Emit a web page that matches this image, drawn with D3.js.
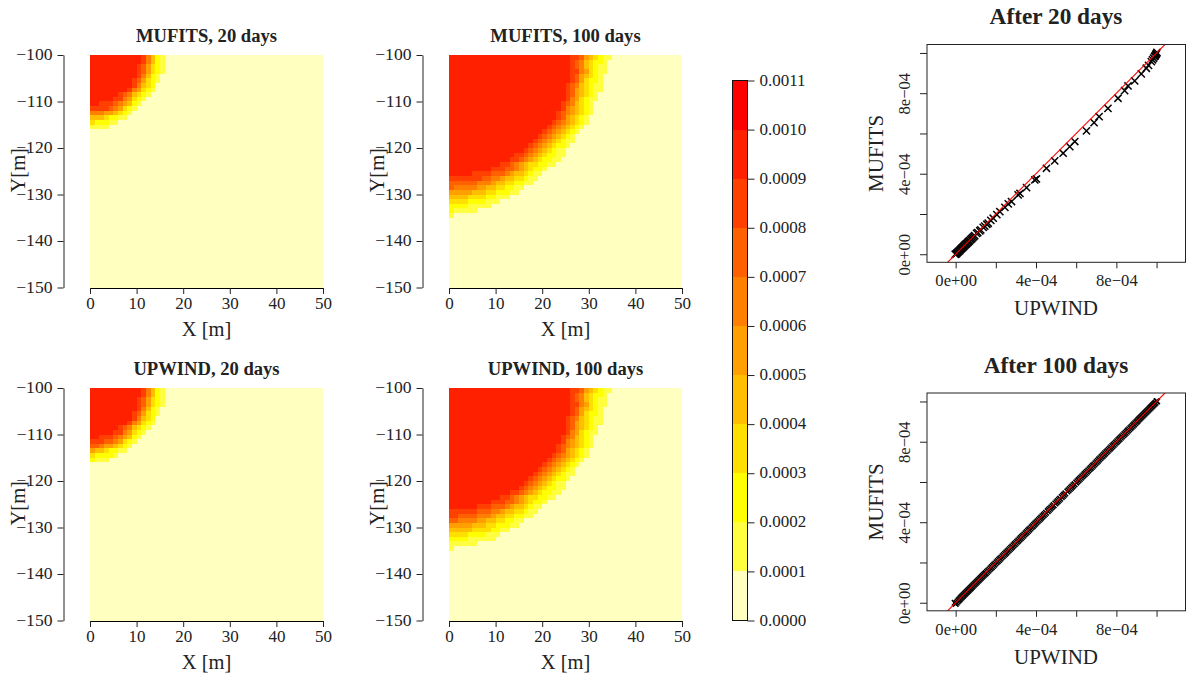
<!DOCTYPE html>
<html><head><meta charset="utf-8">
<script src="https://cdn.jsdelivr.net/npm/d3@7"></script>
<style>html,body{margin:0;padding:0;background:#fff}svg{display:block}text{font-family:"Liberation Serif",serif;fill:#222}</style>
</head><body><svg id="c" width="1189" height="676"></svg>
<script>
const levelColors=["#FFFFBF","#FFFF40","#FFFF00","#FFDF00","#FFBF00","#FF9F00","#FF8000","#FF6000","#FF4000","#FF2000","#FF0000"];
const levelBreaks=[0,0.0001,0.0002,0.0003,0.0004,0.0005,0.0006,0.0007,0.0008,0.0009,0.0010,0.0011];
const xTicksHeat=[0,10,20,30,40,50];
const yTicksHeat=[-100,-110,-120,-130,-140,-150];
// one entry per 1 m row from y=-100: [cells at level 9, then one digit per following cell = colour level]; the rest is level 0
const mufits20=[[11,"86421"],[11,"86421"],[10,"875321"],[10,"875321"],[10,"86421"],[9,"875321"],[9,"86432"],[8,"865321"],
[6,"8764321"],[5,"8865321"],[2,"888765421"],[0,"8888765321"],[0,"666554321"],[0,"44432211"],[0,"322211"],[0,"1111"]];
const upwind20=[[11,"86421"],[11,"86421"],[10,"875321"],[10,"875321"],[10,"86421"],[9,"875321"],[9,"86432"],[8,"865321"],
[6,"8764321"],[5,"8865321"],[2,"888765421"],[0,"8887765321"],[0,"776554321"],[0,"54432211"],[0,"322221"],[0,"2111"]];
const mufits100=[[26,"887543211"],[26,"87643221"],[26,"87643211"],[26,"88653211"],[26,"8754321"],[26,"8753221"],[25,"87643211"],[25,"87543211"],
[25,"8754321"],[25,"8653211"],[24,"8764321"],[24,"8654321"],[23,"87654321"],[23,"8754321"],[22,"87654321"],[21,"87654321"],
[20,"87654321"],[19,"87654321"],[18,"876543211"],[17,"876543221"],[16,"876543211"],[14,"88765432211"],[13,"88765432211"],[11,"887654332211"],
[9,"888776543221"],[5,"888877765443211"],[0,"8888888776654433211"],[0,"777777666544332211"],[0,"7666665544332211"],
[0,"555554443322211"],[0,"4444333322111"],[0,"33332222111"],[0,"222211111"],[0,"211111"],[0,"1"]];
const upwind100=[[26,"887543211"],[26,"87643221"],[26,"87643211"],[26,"88653211"],[26,"8754321"],[26,"8753221"],[25,"87643211"],[25,"87543211"],
[25,"8754321"],[25,"8653211"],[24,"8764321"],[24,"8654321"],[23,"87654321"],[23,"8754321"],[22,"87654321"],[21,"87654321"],
[20,"87654321"],[19,"87654321"],[18,"876543211"],[17,"876543221"],[16,"876543211"],[15,"8765432211"],[13,"88765432211"],[11,"887654332211"],
[9,"888776543221"],[6,"88877765443211"],[0,"8888887776654433211"],[0,"887777666544332211"],[0,"7766665544332211"],
[0,"555554443322211"],[0,"4444433332211"],[0,"33332222111"],[0,"2222111111"],[0,"111111"],[0,"1"]];
const upwind20x=[-0.02,0.03,0.06,0.1,0.14,0.18,0.22,0.26,0.3,0.34,0.38,0.42,0.46,0.5,0.54,0.58,0.62,0.66,0.7,0.75,0.8,0.85,0.9,0.95,1.04,1.1,1.2,1.25,1.37,1.45,1.55,1.62,1.75,1.87,2.05,2.2,2.45,2.62,2.78,3.11,3.2,3.53,3.94,4.02,4.52,4.93,5.35,5.68,5.93,6.51,6.89,7.14,7.58,8.08,8.41,8.58,8.91,9.24,9.49,9.6,9.74,9.8,9.85,9.9,9.93,9.96,9.98,10,10.02];
const mufits20y=[0,0.02,0.05,0.09,0.13,0.17,0.21,0.25,0.29,0.33,0.37,0.41,0.45,0.49,0.52,0.56,0.6,0.64,0.68,0.73,0.77,0.82,0.87,0.92,1.04,1.08,1.16,1.21,1.34,1.4,1.49,1.54,1.68,1.79,1.97,2.12,2.33,2.5,2.62,2.95,3.02,3.31,3.69,3.74,4.27,4.64,5.02,5.35,5.6,6.13,6.54,6.84,7.25,7.75,8.13,8.36,8.61,8.96,9.24,9.38,9.57,9.66,9.74,9.82,9.86,9.91,9.95,9.98,10.03];
const pairs100=[[-0.05,0],[0,-0.06],[0.05,0],[0.1,0.06],[0.15,0.12],[0.2,0.17],[0.25,0.23],[0.3,0.28],[0.35,0.33],[0.4,0.38],[0.45,0.43],[0.5,0.48],[0.55,0.53],[0.6,0.58],[0.65,0.63],[0.7,0.68],[0.75,0.73],[0.8,0.78],[0.85,0.83],[0.9,0.88],[0.95,0.93],[1,0.98],[1.05,1.03],[1.1,1.08],[1.15,1.13],[1.2,1.18],[1.25,1.23],[1.3,1.28],[1.35,1.33],[1.4,1.38],[1.45,1.43],[1.5,1.47],[1.56,1.53],[1.62,1.59],[1.68,1.65],[1.74,1.71],[1.8,1.77],[1.86,1.83],[1.92,1.89],[1.98,1.95],[2.04,2.01],[2.1,2.07],[2.16,2.13],[2.22,2.19],[2.28,2.25],[2.34,2.31],[2.4,2.37],[2.46,2.43],[2.52,2.49],[2.58,2.55],[2.64,2.61],[2.7,2.67],[2.76,2.73],[2.82,2.79],[2.88,2.85],[2.94,2.91],[3,2.97],[3.06,3.03],[3.12,3.09],[3.18,3.15],[3.24,3.21],[3.3,3.27],[3.36,3.33],[3.42,3.39],[3.48,3.45],[3.54,3.51],[3.6,3.57],[3.66,3.63],[3.72,3.69],[3.78,3.75],[3.84,3.81],[3.9,3.87],[3.96,3.93],[4.02,3.99],[4.08,4.05],[4.14,4.11],[4.2,4.17],[4.26,4.23],[4.32,4.29],[4.38,4.35],[4.44,4.41],[4.5,4.47],[4.58,4.55],[4.64,4.61],[4.7,4.67],[4.76,4.73],[4.82,4.79],[4.88,4.85],[4.96,4.93],[5.02,4.99],[5.08,5.05],[5.14,5.11],[5.2,5.17],[5.28,5.25],[5.34,5.31],[5.4,5.37],[5.46,5.43],[5.56,5.53],[5.62,5.59],[5.68,5.65],[5.74,5.71],[5.8,5.77],[5.86,5.83],[5.92,5.89],[6,5.97],[6.06,6.03],[6.12,6.09],[6.18,6.15],[6.24,6.21],[6.3,6.27],[6.36,6.33],[6.42,6.39],[6.48,6.45],[6.54,6.51],[6.6,6.57],[6.66,6.63],[6.72,6.69],[6.78,6.75],[6.84,6.81],[6.9,6.87],[6.96,6.93],[7.02,6.99],[7.08,7.05],[7.14,7.12],[7.2,7.18],[7.26,7.24],[7.32,7.3],[7.38,7.36],[7.44,7.42],[7.5,7.48],[7.56,7.54],[7.62,7.6],[7.68,7.66],[7.74,7.72],[7.8,7.78],[7.86,7.84],[7.92,7.9],[7.98,7.96],[8.04,8.02],[8.1,8.08],[8.16,8.14],[8.22,8.2],[8.28,8.26],[8.34,8.32],[8.4,8.38],[8.46,8.44],[8.52,8.5],[8.58,8.56],[8.64,8.62],[8.7,8.68],[8.76,8.74],[8.82,8.8],[8.88,8.86],[8.94,8.92],[9,8.98],[9.05,9.03],[9.1,9.09],[9.15,9.14],[9.2,9.19],[9.25,9.24],[9.3,9.29],[9.35,9.34],[9.4,9.39],[9.45,9.44],[9.5,9.49],[9.55,9.54],[9.6,9.59],[9.65,9.64],[9.7,9.69],[9.75,9.74],[9.8,9.79],[9.85,9.84],[9.9,9.89],[9.95,9.94],[10,10.02],[10.03,10]];
const scatterTicks=[0,2,4,6,8,10];
const scatterTickLabels=["0e+00","","4e\u221204","","8e\u221204",""];

const svg=d3.select("#c");
const ink="#222";
function styleAxis(g){g.selectAll("path,line").attr("stroke",ink).attr("stroke-width",1);g.selectAll("text").attr("fill",ink).attr("font-size",17);}

function heat(rows,title,left,top){
  const right=left+233,bottom=top+232.5;
  const x=d3.scaleLinear().domain([0,50]).range([left,right]);
  const y=d3.scaleLinear().domain([-150,-100]).range([bottom,top]);
  const cells=[];
  for(let r=0;r<50;r++){
    const row=rows[r]||[0,""];
    for(let c=0;c<50;c++){
      const l=c<row[0]?9:(c-row[0]<row[1].length?+row[1][c-row[0]]:0);
      cells.push({r,c,l});
    }
  }
  svg.append("g").attr("shape-rendering","crispEdges").selectAll("rect").data(cells).join("rect")
    .attr("x",d=>Math.round(x(d.c))).attr("y",d=>Math.round(y(-100-d.r)))
    .attr("width",d=>Math.round(x(d.c+1))-Math.round(x(d.c)))
    .attr("height",d=>Math.round(y(-100-d.r-1))-Math.round(y(-100-d.r)))
    .attr("fill",d=>levelColors[d.l]);
  const ax=svg.append("g").attr("transform",`translate(0,${bottom+0.5})`)
    .call(d3.axisBottom(x).tickValues(xTicksHeat).tickSize(6).tickSizeOuter(0).tickPadding(3)).call(styleAxis);
  ax.select("path").attr("stroke","#000");
  const ay=svg.append("g").attr("transform",`translate(${left-26.5},0)`)
    .call(d3.axisLeft(y).tickValues(yTicksHeat).tickSize(6).tickSizeOuter(0).tickPadding(5)).call(styleAxis);
  ay.selectAll("text").attr("font-size",17.6).attr("dy","0.27em");
  svg.append("text").attr("x",(left+right)/2).attr("y",top-13.5).attr("text-anchor","middle")
    .attr("font-weight","bold").attr("font-size",18.6).text(title);
  svg.append("text").attr("x",(left+right)/2).attr("y",bottom+48).attr("text-anchor","middle").attr("font-size",20.5).text("X [m]");
  svg.append("text").attr("transform",`translate(${left-65},${(top+bottom)/2-1}) rotate(-90)`).attr("text-anchor","middle").attr("font-size",20.5).text("Y[m]");
}
heat(mufits20,"MUFITS, 20 days",90,55);
heat(mufits100,"MUFITS, 100 days",449,55);
heat(upwind20,"UPWIND, 20 days",90,388);
heat(upwind100,"UPWIND, 100 days",449,388);

// colour bar
const cbY=d3.scaleLinear().domain([0,0.0011]).range([620.5,80.5]);
svg.append("g").attr("shape-rendering","crispEdges").selectAll("rect").data(levelColors).join("rect")
  .attr("x",733).attr("width",14)
  .attr("y",(d,i)=>cbY(levelBreaks[i+1])).attr("height",(d,i)=>cbY(levelBreaks[i])-cbY(levelBreaks[i+1]))
  .attr("fill",d=>d);
svg.append("rect").attr("x",732.5).attr("y",80.5).attr("width",15).attr("height",540).attr("fill","none").attr("stroke","#111");
svg.append("g").attr("transform","translate(747.5,0)")
  .call(d3.axisRight(cbY).tickValues(levelBreaks).tickFormat(d3.format(".4f")).tickSize(7).tickSizeOuter(0).tickPadding(5)).call(styleAxis)
  .call(g=>g.select("path").remove())
  .call(g=>g.selectAll("text").attr("dy","0.27em"));

function scatter(points,title,top,h){
  const left=927,right=1185.5,bottom=top+217.8;
  const x=d3.scaleLinear().domain([-1.426,11.44]).range([left,right]);
  const y=d3.scaleLinear().domain([-0.4,10.42]).range([bottom,top]);
  const id="clip"+Math.round(top);
  svg.append("clipPath").attr("id",id).append("rect").attr("x",left).attr("y",top).attr("width",right-left).attr("height",bottom-top);
  svg.append("g").selectAll("path").data(points).join("path")
    .attr("transform",d=>`translate(${x(d[0])},${y(d[1])})`)
    .attr("d",`M${-h},${-h}L${h},${h}M${-h},${h}L${h},${-h}`)
    .attr("stroke","#000").attr("stroke-width",1.5).attr("fill","none");
  svg.append("line").attr("clip-path",`url(#${id})`)
    .attr("x1",x(-2)).attr("y1",y(-2)).attr("x2",x(12)).attr("y2",y(12)).attr("stroke","#ff0000").attr("stroke-width",1.1);
  svg.append("rect").attr("x",left).attr("y",top).attr("width",right-left).attr("height",bottom-top).attr("fill","none").attr("stroke",ink).attr("stroke-width",1);
  const ax=svg.append("g").attr("transform",`translate(0,${bottom})`)
    .call(d3.axisBottom(x).tickValues(scatterTicks).tickFormat((d,i)=>scatterTickLabels[i]).tickSize(6).tickSizeOuter(0).tickPadding(6)).call(styleAxis);
  ax.select("path").remove(); ax.selectAll("text").attr("font-size",16.6);
  const ay=svg.append("g").attr("transform",`translate(${left},0)`)
    .call(d3.axisLeft(y).tickValues(scatterTicks).tickFormat((d,i)=>scatterTickLabels[i]).tickSize(7).tickSizeOuter(0)).call(styleAxis);
  ay.select("path").remove();
  ay.selectAll("text").attr("font-size",16.6).attr("text-anchor","middle").attr("dy",0).attr("x",0)
    .attr("transform",`translate(-17,0) rotate(-90)`);
  svg.append("text").attr("x",1056).attr("y",top-20.5).attr("text-anchor","middle").attr("font-weight","bold").attr("font-size",23.3).text(title);
  svg.append("text").attr("x",1056).attr("y",bottom+53).attr("text-anchor","middle").attr("font-size",21).text("UPWIND");
  svg.append("text").attr("transform",`translate(883,${(top+bottom)/2}) rotate(-90)`).attr("text-anchor","middle").attr("font-size",21).text("MUFITS");
}
scatter(upwind20x.map((v,i)=>[v,mufits20y[i]]),"After 20 days",44.5,3.6);
scatter(pairs100,"After 100 days",393,2.8);
</script></body></html>
